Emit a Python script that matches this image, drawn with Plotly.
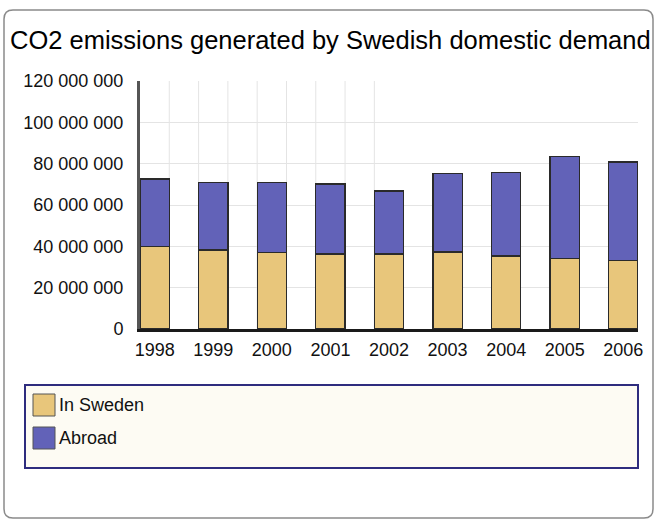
import plotly.graph_objects as go

years = ["1998", "1999", "2000", "2001", "2002", "2003", "2004", "2005", "2006"]
in_sweden = [39800000, 38200000, 36900000, 36300000, 36300000, 37300000, 35300000, 34100000, 33000000]
abroad = [32800000, 32600000, 33900000, 33800000, 30500000, 37800000, 40500000, 49500000, 47800000]
series_names = ["In Sweden", "Abroad"]
series_colors = ["#E8C67B", "#6262B8"]
title_text = "CO2 emissions generated by Swedish domestic demand"

W, H = 656, 521
L, R, T, B = 140, 18, 81, 192
PW, PH = W - L - R, H - T - B

def px(x):
    return (x - L) / PW

def py(y):
    return (T + PH - y) / PH

FONT = "Liberation Sans, Arial, sans-serif"

fig = go.Figure()
for name, vals, col in zip(series_names, [in_sweden, abroad], series_colors):
    fig.add_trace(go.Bar(
        x=years, y=vals, name=name, width=0.5,
        marker=dict(color=col, line=dict(color="#2a2a2a", width=1.3)),
        showlegend=False,
    ))

shapes = []
# partial vertical gridlines (left part of chart, at bar edges)
for i in range(4):
    for off in (0.25, 0.75):
        shapes.append(dict(type="line", xref="x", yref="paper", x0=i + off, x1=i + off,
                           y0=0, y1=1, line=dict(color="#e4e4e4", width=1), layer="below"))

# outer rounded frame
x0, y0, x1, y1, r = 4, 10, 653, 518, 9
path = (f"M {px(x0+r)},{py(y0)} L {px(x1-r)},{py(y0)} Q {px(x1)},{py(y0)} {px(x1)},{py(y0+r)} "
        f"L {px(x1)},{py(y1-r)} Q {px(x1)},{py(y1)} {px(x1-r)},{py(y1)} "
        f"L {px(x0+r)},{py(y1)} Q {px(x0)},{py(y1)} {px(x0)},{py(y1-r)} "
        f"L {px(x0)},{py(y0+r)} Q {px(x0)},{py(y0)} {px(x0+r)},{py(y0)} Z")
shapes.append(dict(type="path", xref="paper", yref="paper", path=path,
                   line=dict(color="#8a8a8a", width=1.5), layer="below"))

# legend box
shapes.append(dict(type="rect", xref="paper", yref="paper",
                   x0=px(25), x1=px(638), y0=py(385), y1=py(468),
                   fillcolor="#FDFBF3", line=dict(color="#2E2C7E", width=2)))

annotations = []
item_y = [405, 438]
for name, col, yc in zip(series_names, series_colors, item_y):
    shapes.append(dict(type="rect", xref="paper", yref="paper",
                       x0=px(33), x1=px(55), y0=py(yc - 11), y1=py(yc + 11),
                       fillcolor=col, line=dict(color="#555555", width=1)))
    annotations.append(dict(xref="paper", yref="paper", x=px(57), y=py(yc),
                            xanchor="left", yanchor="middle", text=name, showarrow=False,
                            font=dict(family=FONT, size=18, color="#111")))

fig.update_layout(
    width=W, height=H,
    margin=dict(l=L, r=R, t=T, b=B, pad=0),
    barmode="stack",
    plot_bgcolor="white", paper_bgcolor="white",
    separators=". ",
    font=dict(family=FONT, size=18, color="#111"),
    title=dict(text=title_text, xref="container", yref="container",
               x=10 / W, xanchor="left", y=1 - 40 / H, yanchor="middle",
               font=dict(family=FONT, size=25.5, color="#000")),
    xaxis=dict(type="category", range=[-0.25, 8.25], showgrid=False,
               showline=True, linecolor="#1a1a1a", linewidth=3,
               ticks="", ticklabelstandoff=2, tickfont=dict(size=18)),
    yaxis=dict(range=[0, 120000000], dtick=20000000, tickformat=",d",
               showgrid=True, gridcolor="#e4e4e4", gridwidth=1,
               showline=True, linecolor="#555555", linewidth=3,
               zeroline=False, ticks="", ticklabelstandoff=10, tickfont=dict(size=18)),
    shapes=shapes,
    annotations=annotations,
    bargap=0.5,
)

fig.write_html("out.html")
